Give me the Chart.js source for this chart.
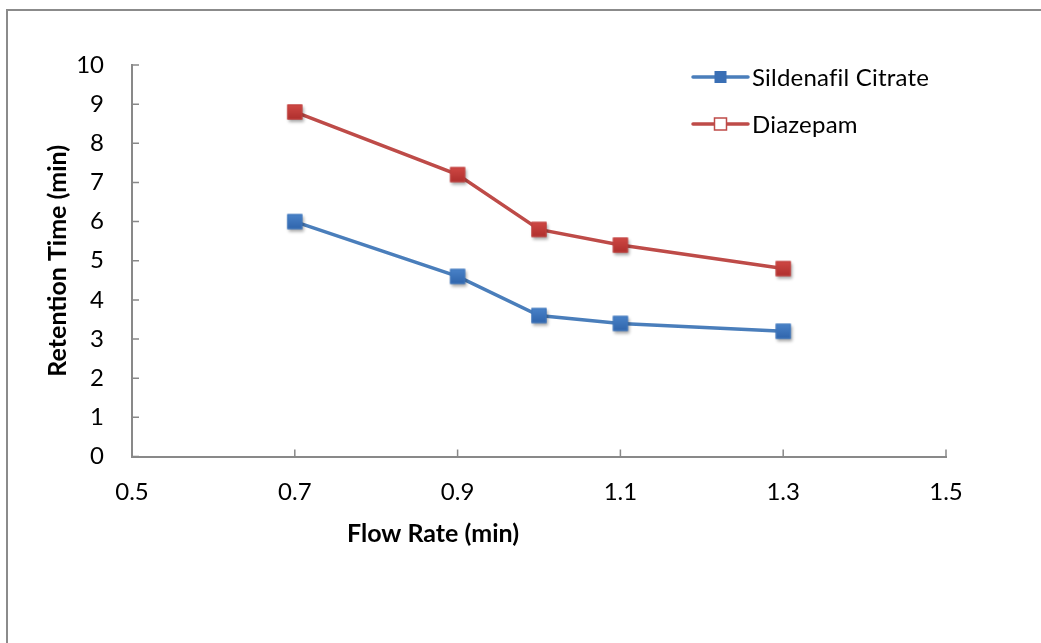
<!DOCTYPE html>
<html><head><meta charset="utf-8">
<script src="https://cdn.jsdelivr.net/npm/chart.js@4/dist/chart.umd.min.js"></script>
<style>
html,body{margin:0;padding:0;background:#fff;overflow:hidden;}
#wrap{position:relative;width:1041px;height:643px;overflow:hidden;}
#frame{position:absolute;left:6px;top:9px;width:1200px;height:800px;border:2px solid #8b8b8b;box-sizing:border-box;}
canvas{position:absolute;left:0;top:0;}
</style></head><body>
<div id="wrap"><div id="frame"></div><canvas id="c" width="1041" height="643"></canvas></div>
<script>
// ---- data ----
const flowRates = [0.7, 0.9, 1.0, 1.1, 1.3];
const sildenafil = [6.0, 4.6, 3.6, 3.4, 3.2];
const diazepam = [8.8, 7.2, 5.8, 5.4, 4.8];
const xTicks = [0.5, 0.7, 0.9, 1.1, 1.3, 1.5];
const yTicks = [0, 1, 2, 3, 4, 5, 6, 7, 8, 9, 10];
const seriesNames = ['Sildenafil Citrate', 'Diazepam'];
const xTitle = 'Flow Rate (min)';
const yTitle = 'Retention Time (min)';

// ---- styles ----
const FONT = 'Lato';
const AXIS = '#898989';
const BLUE_LINE = '#4A7EBB', RED_LINE = '#BE4B48';

function markerImage(top, bottom, edge) {
  const c = document.createElement('canvas');
  c.width = 30; c.height = 30;
  const g = c.getContext('2d');
  const s = 15, x0 = 15 - s / 2, y0 = 15 - s / 2;
  g.save();
  g.shadowColor = 'rgba(0,0,0,0.35)';
  g.shadowBlur = 3; g.shadowOffsetX = 1.5; g.shadowOffsetY = 2.5;
  const gr = g.createLinearGradient(0, y0, 0, y0 + s);
  gr.addColorStop(0, top); gr.addColorStop(1, bottom);
  g.fillStyle = gr;
  g.fillRect(x0, y0, s, s);
  g.restore();
  g.strokeStyle = edge; g.lineWidth = 1;
  g.strokeRect(x0 + 0.5, y0 + 0.5, s - 1, s - 1);
  return c;
}
const blueMarker = markerImage('#4A83C9', '#2F64AB', '#3F76BC');
const redMarker = markerImage('#D04844', '#AE2F2D', '#C0413F');

const insideTicks = {
  id: 'insideTicks',
  afterDraw(chart) {
    const ctx = chart.ctx, a = chart.chartArea;
    const xs = chart.scales.x, ys = chart.scales.y;
    ctx.save();
    ctx.strokeStyle = AXIS; ctx.lineWidth = 1.5;
    ctx.beginPath();
    ys.ticks.forEach(t => { const y = ys.getPixelForValue(t.value); ctx.moveTo(a.left, y); ctx.lineTo(a.left + 7, y); });
    xs.ticks.forEach(t => { const x = xs.getPixelForValue(t.value); ctx.moveTo(x, a.bottom); ctx.lineTo(x, a.bottom - 7); });
    ctx.stroke();
    ctx.restore();
  }
};

// x-axis title sits left of centre, as in the original
const xAxisTitle = {
  id: 'xAxisTitle',
  afterDraw(chart) {
    const ctx = chart.ctx;
    ctx.save();
    ctx.fillStyle = '#000';
    ctx.font = 'bold 25px ' + FONT;
    ctx.textAlign = 'center'; ctx.textBaseline = 'middle';
    ctx.fillText(xTitle, 433, 534);
    ctx.restore();
  }
};

const customLegend = {
  id: 'customLegend',
  afterDraw(chart) {
    const ctx = chart.ctx;
    const x0 = 693, len = 55, y0 = 77, gap = 47;
    ctx.save();
    chart.data.datasets.forEach((ds, i) => {
      const y = y0 + i * gap;
      ctx.strokeStyle = ds.borderColor; ctx.lineWidth = 3.5; ctx.lineCap = 'round';
      ctx.beginPath(); ctx.moveTo(x0, y); ctx.lineTo(x0 + len, y); ctx.stroke();
      const s = 12, cx = x0 + len / 2;
      if (ds.legendHollow) {
        ctx.fillStyle = '#fff'; ctx.fillRect(cx - s / 2, y - s / 2, s, s);
        ctx.strokeStyle = ds.borderColor; ctx.lineWidth = 1.5;
        ctx.strokeRect(cx - s / 2, y - s / 2, s, s);
      } else {
        ctx.fillStyle = '#3A6FB5'; ctx.fillRect(cx - s / 2, y - s / 2, s, s);
      }
      ctx.fillStyle = '#000';
      ctx.font = '24px ' + FONT;
      ctx.letterSpacing = '0.2px';
      ctx.textBaseline = 'middle'; ctx.textAlign = 'left';
      ctx.fillText(ds.label, x0 + len + 4, y + 1);
    });
    ctx.restore();
  }
};

const tickFont = { family: FONT, size: 24 };
const titleFont = { family: FONT, size: 25, weight: 'bold' };

new Chart(document.getElementById('c'), {
  type: 'line',
  data: {
    datasets: [
      { label: seriesNames[0], data: flowRates.map((x, i) => ({ x, y: sildenafil[i] })),
        borderColor: BLUE_LINE, borderWidth: 3.5, pointStyle: blueMarker, pointRadius: 8, tension: 0, legendHollow: false },
      { label: seriesNames[1], data: flowRates.map((x, i) => ({ x, y: diazepam[i] })),
        borderColor: RED_LINE, borderWidth: 3.5, pointStyle: redMarker, pointRadius: 8, tension: 0, legendHollow: true }
    ]
  },
  options: {
    responsive: false,
    animation: false,
    events: [],
    layout: { padding: { top: 65, right: 95, bottom: 0, left: 0 } },
    plugins: { legend: { display: false }, tooltip: { enabled: false } },
    scales: {
      x: {
        type: 'linear', min: 0.5, max: 1.5,
        afterBuildTicks: s => { s.ticks = xTicks.map(v => ({ value: v })); },
        afterFit: s => { s.height = 186.5; },
        ticks: { callback: v => v.toFixed(1), font: tickFont, color: '#000', padding: 13, maxRotation: 0, autoSkip: false },
        grid: { display: false },
        border: { display: true, color: AXIS, width: 2 },
        title: { display: false }
      },
      y: {
        type: 'linear', min: 0, max: 10,
        afterBuildTicks: s => { s.ticks = yTicks.map(v => ({ value: v })); },
        afterFit: s => { s.width = 132; },
        ticks: { font: tickFont, color: '#000', padding: 20 },
        grid: { display: false },
        border: { display: true, color: AXIS, width: 2 },
        title: { display: true, text: yTitle, font: titleFont, color: '#000', padding: { top: 43, bottom: 0 } }
      }
    }
  },
  plugins: [insideTicks, xAxisTitle, customLegend]
});
</script>
</body></html>
